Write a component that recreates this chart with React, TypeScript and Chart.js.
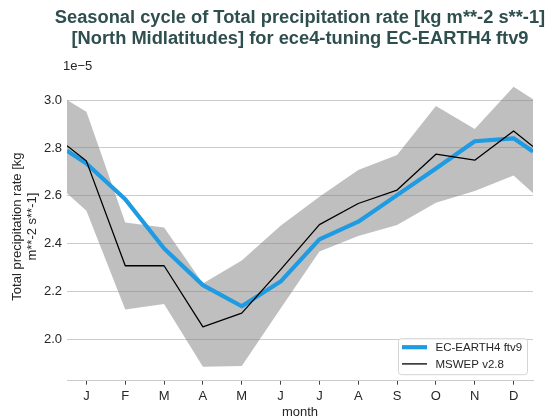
import React, { useEffect, useRef } from "react";
import { Chart, registerables } from "chart.js";

Chart.register(...registerables);

const MONTH_X = [0.5, 1, 2, 3, 4, 5, 6, 7, 8, 9, 10, 11, 12, 12.5];
const MONTH_TICKS = [1, 2, 3, 4, 5, 6, 7, 8, 9, 10, 11, 12];
const MONTH_LABELS = ["J", "F", "M", "A", "M", "J", "J", "A", "S", "O", "N", "D"];
const Y_TICKS = [2.0, 2.2, 2.4, 2.6, 2.8, 3.0];

const MODEL = [2.788, 2.735, 2.586, 2.38, 2.227, 2.139, 2.242, 2.418, 2.492, 2.603, 2.714, 2.828, 2.84, 2.785];
const OBS = [2.809, 2.745, 2.308, 2.308, 2.053, 2.11, 2.292, 2.48, 2.568, 2.624, 2.774, 2.749, 2.871, 2.806];
const OBS_UPPER = [3.0, 2.951, 2.489, 2.468, 2.234, 2.33, 2.475, 2.596, 2.708, 2.77, 2.975, 2.879, 3.056, 3.003];
const OBS_LOWER = [2.611, 2.538, 2.125, 2.148, 1.886, 1.889, 2.13, 2.368, 2.432, 2.478, 2.571, 2.62, 2.685, 2.612];

const TITLE = [
  "Seasonal cycle of Total precipitation rate [kg m**-2 s**-1]",
  "[North Midlatitudes] for ece4-tuning EC-EARTH4 ftv9",
];
const Y_TITLE = ["Total precipitation rate [kg", "m**-2 s**-1]"];
const X_TITLE = "month";
const OFFSET_TEXT = "1e\u22125";

const FONT = '"Liberation Sans", Arial, sans-serif';
const TEXT = "#262626";
const BLUE = "#1e9be2";

const toPts = (vals: number[]) => vals.map((v, i) => ({ x: MONTH_X[i], y: v }));

const decorations = {
  id: "decorations",
  afterDraw(chart: any) {
    const { ctx, chartArea } = chart;
    ctx.save();
    // title
    ctx.fillStyle = "#2f4f4f";
    ctx.font = `bold 18.3px ${FONT}`;
    ctx.textAlign = "center";
    ctx.textBaseline = "alphabetic";
    const cx = (chartArea.left + chartArea.right) / 2;
    ctx.fillText(TITLE[0], cx, 22.8);
    ctx.fillText(TITLE[1], cx, 43.8);
    // offset text
    ctx.fillStyle = TEXT;
    ctx.font = `13px ${FONT}`;
    ctx.textAlign = "left";
    ctx.fillText(OFFSET_TEXT, chartArea.left - 4, 70);
    // legend
    const w = 129;
    const h = 36;
    const bx = chartArea.right - 6 - w;
    const by = chartArea.bottom - 6.5 - h;
    ctx.beginPath();
    ctx.roundRect(bx + 0.5, by + 0.5, w, h, 3);
    ctx.fillStyle = "rgba(255,255,255,0.85)";
    ctx.fill();
    ctx.strokeStyle = "#d4d4d4";
    ctx.lineWidth = 1;
    ctx.stroke();
    const items = chart.data.datasets.filter((d: any) => d.showInLegend);
    items.sort((a: any, b: any) => a.legendRank - b.legendRank);
    items.forEach((d: any, i: number) => {
      const y = by + 9 + i * 16.7;
      ctx.beginPath();
      ctx.moveTo(bx + 4, y);
      ctx.lineTo(bx + 29, y);
      ctx.strokeStyle = d.borderColor;
      ctx.lineWidth = d.borderWidth;
      ctx.lineCap = "butt";
      ctx.stroke();
      ctx.fillStyle = TEXT;
      ctx.font = `11.5px ${FONT}`;
      ctx.textBaseline = "middle";
      ctx.textAlign = "left";
      ctx.fillText(d.label, bx + 37.5, y + 0.5);
    });
    ctx.restore();
  },
};

export default function App() {
  const ref = useRef<HTMLCanvasElement | null>(null);
  useEffect(() => {
    if (!ref.current) return;
    const chart = new Chart(ref.current, {
      type: "line",
      data: {
        datasets: [
          {
            label: "MSWEP v2.8",
            data: toPts(OBS),
            borderColor: "#000000",
            borderWidth: 1.3,
            pointRadius: 0,
            borderJoinStyle: "round",
            fill: false,
            showInLegend: true,
            legendRank: 2,
          } as any,
          {
            label: "EC-EARTH4 ftv9",
            data: toPts(MODEL),
            borderColor: BLUE,
            borderWidth: 4.2,
            pointRadius: 0,
            borderJoinStyle: "round",
            fill: false,
            showInLegend: true,
            legendRank: 1,
          } as any,
          {
            label: "lower",
            data: toPts(OBS_LOWER),
            borderWidth: 0,
            borderColor: "rgba(0,0,0,0)",
            pointRadius: 0,
            fill: false,
          },
          {
            label: "upper",
            data: toPts(OBS_UPPER),
            borderWidth: 0,
            borderColor: "rgba(0,0,0,0)",
            backgroundColor: "rgba(128,128,128,0.5)",
            pointRadius: 0,
            fill: 2,
          },
        ],
      },
      options: {
        animation: false,
        responsive: true,
        maintainAspectRatio: false,
        devicePixelRatio: 1,
        layout: { padding: { top: 72.5, right: 19, left: 0, bottom: 0 } },
        plugins: {
          legend: { display: false },
          title: { display: false },
          tooltip: { enabled: false },
          filler: { drawTime: "beforeDatasetsDraw" },
        },
        scales: {
          x: {
            type: "linear",
            min: 0.5,
            max: 12.5,
            afterBuildTicks: (s: any) => {
              s.ticks = MONTH_TICKS.map((v) => ({ value: v }));
            },
            afterFit: (s: any) => {
              s.height = 39.3;
            },
            ticks: {
              autoSkip: false,
              maxRotation: 0,
              padding: 4,
              color: TEXT,
              font: { family: FONT, size: 13 },
              callback: (v: any) => MONTH_LABELS[Math.round(Number(v)) - 1] ?? "",
            },
            grid: {
              drawOnChartArea: false,
              drawTicks: true,
              tickLength: 4,
              tickColor: "#444444",
              tickWidth: 1,
            },
            border: { display: true, color: "#cccccc", width: 1 },
            title: {
              display: true,
              text: X_TITLE,
              color: TEXT,
              font: { family: FONT, size: 13 },
              padding: { top: 0, bottom: 0 },
            },
          },
          y: {
            type: "linear",
            min: 1.828,
            max: 3.115,
            afterBuildTicks: (s: any) => {
              s.ticks = Y_TICKS.map((v) => ({ value: v }));
            },
            afterFit: (s: any) => {
              s.width = 67;
            },
            ticks: {
              padding: 5,
              color: TEXT,
              font: { family: FONT, size: 13 },
              callback: (v: any) => Number(v).toFixed(1),
            },
            grid: { drawTicks: false, color: "#cccccc", lineWidth: 1 },
            border: { display: false },
            title: {
              display: true,
              text: Y_TITLE,
              color: TEXT,
              font: { family: FONT, size: 13 },
              padding: { top: 9.5, bottom: 0 },
            },
          },
        },
      },
      plugins: [decorations],
    });
    return () => chart.destroy();
  }, []);
  return (
    <div style={{ position: "fixed", left: 0, top: 0, width: 552, height: 420, background: "#fff" }}>
      <canvas ref={ref} />
    </div>
  );
}
